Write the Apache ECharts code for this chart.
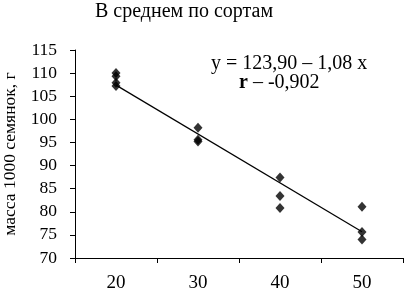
<!DOCTYPE html>
<html>
<head>
<meta charset="utf-8">
<script src="https://cdn.jsdelivr.net/npm/echarts@6/dist/echarts.min.js"></script>
<style>html,body{margin:0;padding:0;background:#fff;}#c{width:409px;height:295px;}</style>
</head>
<body>
<div id="c"></div>
<script>
const titleText = 'В среднем по сортам';
const yAxisName = 'масса 1000 семянок, г';
const xCategories = ['20', '30', '40', '50'];
const pointsX = [20, 20, 20, 20, 30, 30, 30, 40, 40, 40, 50, 50, 50];
const pointsY = [110, 109.3, 107.9, 107.2, 98.2, 95.6, 95.2, 87.4, 83.4, 80.8, 81.1, 75.6, 74.0];
const trendX = [20, 50];
const trendY = [107.4, 75.7];
const equationText = 'y = 123,90 – 1,08 x';
const rText = 'r';
const rValueText = ' – -0,902';

const font = '"Liberation Serif", "DejaVu Serif", serif';
const chart = echarts.init(document.getElementById('c'));
chart.setOption({
  animation: false,
  backgroundColor: '#fff',
  title: {
    text: titleText,
    left: 90, top: -3,
    textStyle: { fontFamily: font, fontSize: 20, fontWeight: 'normal', color: '#000' }
  },
  grid: { left: 75, right: 6, top: 50, bottom: 37, containLabel: false, outerBoundsMode: 'none' },
  xAxis: [
    {
      type: 'category',
      data: xCategories,
      boundaryGap: true,
      axisLine: { lineStyle: { color: '#000', width: 1 } },
      axisTick: { show: true, alignWithLabel: false, length: 5, lineStyle: { color: '#000' } },
      axisLabel: { fontFamily: font, fontSize: 19, color: '#000', margin: 16 },
      splitLine: { show: false }
    },
    {
      type: 'value',
      min: 15, max: 55,
      show: false
    }
  ],
  yAxis: {
    type: 'value',
    min: 70, max: 115, interval: 5,
    name: yAxisName,
    nameLocation: 'middle',
    nameGap: 56,
    nameTextStyle: { fontFamily: font, fontSize: 17.5, color: '#000' },
    axisLine: { show: true, lineStyle: { color: '#000', width: 1 } },
    axisTick: { show: true, length: 5, lineStyle: { color: '#000' } },
    axisLabel: { fontFamily: font, fontSize: 17.5, color: '#000', margin: 18 },
    splitLine: { show: false }
  },
  series: [
    {
      type: 'line',
      xAxisIndex: 1,
      data: trendX.map((x, i) => [x, trendY[i]]),
      symbol: 'none',
      lineStyle: { color: '#000', width: 1.2 },
      z: 2
    },
    {
      type: 'scatter',
      xAxisIndex: 1,
      data: pointsX.map((x, i) => [x, pointsY[i]]),
      symbol: 'diamond',
      symbolSize: [9, 10],
      itemStyle: { color: '#000' },
      z: 3
    }
  ],
  graphic: [
    {
      type: 'text', left: 211, top: 54,
      style: { text: equationText, font: '20px ' + font, fill: '#000' }
    },
    {
      type: 'text', left: 239, top: 73,
      style: {
        text: '{b|' + rText + '}{n|' + rValueText + '}',
        rich: {
          b: { fontFamily: font, fontSize: 20, fontWeight: 'bold', fill: '#000', color: '#000' },
          n: { fontFamily: font, fontSize: 20, fill: '#000', color: '#000' }
        }
      }
    }
  ]
});
</script>
</body>
</html>
